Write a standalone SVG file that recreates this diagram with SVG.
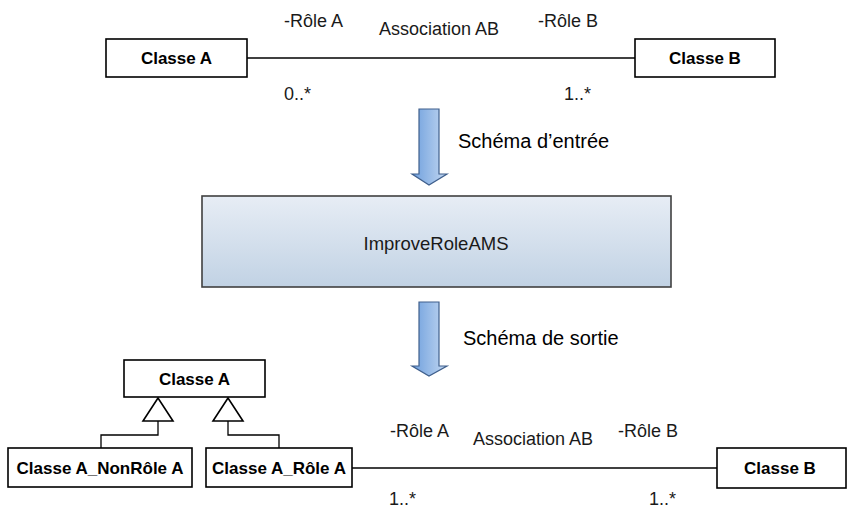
<svg xmlns="http://www.w3.org/2000/svg" width="847" height="514" viewBox="0 0 847 514">
  <style>
    .cls { fill: #ffffff; stroke: #000000; stroke-width: 1.6; }
    .clsname { font-family: "Liberation Sans", Arial, sans-serif; font-weight: bold; font-size: 17px; fill: #000000; text-anchor: middle; }
    .lbl { font-family: "Liberation Sans", Arial, sans-serif; font-size: 18px; fill: #1a1a1a; }
    .step { font-family: "Liberation Sans", Arial, sans-serif; font-size: 20px; fill: #000000; }
    .conn { stroke: #000000; stroke-width: 1.3; fill: none; }
    .gen { fill: #ffffff; stroke: #000000; stroke-width: 1.6; }
    .flow { fill: url(#flowFill); stroke: #3f5f8c; stroke-width: 1.2; }
  </style>
  <defs>
    <linearGradient id="flowFill" x1="0" y1="0" x2="1" y2="0">
      <stop offset="0" stop-color="#6e9fdd"/>
      <stop offset="1" stop-color="#c2d7f1"/>
    </linearGradient>
    <linearGradient id="procFill" x1="0" y1="0" x2="0" y2="1">
      <stop offset="0" stop-color="#e7edf5"/>
      <stop offset="1" stop-color="#c1d2e4"/>
    </linearGradient>
  </defs>

  <!-- connectors -->
  <g id="connectors">
    <line class="conn" x1="247" y1="58" x2="635" y2="58"/>
    <line class="conn" x1="352" y1="468" x2="717" y2="468"/>
    <polyline class="conn" points="158,421 158,435 101,435 101,448"/>
    <polyline class="conn" points="228,421 228,435 279,435 279,448"/>
    <polygon id="gen-left" class="gen" points="158,398 143,421 173,421"/>
    <polygon id="gen-right" class="gen" points="228,398 213,421 243,421"/>
  </g>

  <!-- input schema -->
  <g id="in-classA">
    <rect class="cls" x="106" y="39" width="141" height="38"/>
    <text class="clsname" x="176.5" y="64">Classe A</text>
  </g>
  <g id="in-classB">
    <rect class="cls" x="635" y="39" width="140" height="38"/>
    <text class="clsname" x="705" y="64">Classe B</text>
  </g>
  <g id="in-labels">
    <text class="lbl" x="284" y="27">-Rôle A</text>
    <text class="lbl" x="379" y="35">Association AB</text>
    <text class="lbl" x="538" y="27">-Rôle B</text>
    <text class="lbl" x="284" y="100">0..*</text>
    <text class="lbl" x="564" y="100">1..*</text>
  </g>

  <!-- transformation -->
  <g id="arrow-in">
    <polygon class="flow" points="419,109 439,109 439,174 447,174 429,185 412,174 419,174"/>
    <text class="step" x="458" y="148">Schéma d’entrée</text>
  </g>
  <g id="process">
    <rect x="202" y="196" width="469" height="91" fill="url(#procFill)" stroke="#404040" stroke-width="1.6"/>
    <text class="lbl" x="436" y="250" text-anchor="middle" style="font-size:18.5px">ImproveRoleAMS</text>
  </g>
  <g id="arrow-out">
    <polygon class="flow" points="419,302 439,302 439,366 447,366 429,376 412,366 419,366"/>
    <text class="step" x="463" y="345">Schéma de sortie</text>
  </g>

  <!-- output schema -->
  <g id="out-classA">
    <rect class="cls" x="124" y="360" width="141" height="37"/>
    <text class="clsname" x="194.5" y="385">Classe A</text>
  </g>
  <g id="out-classA-nonrole">
    <rect class="cls" x="8" y="448" width="184" height="39"/>
    <text class="clsname" x="100" y="474">Classe A_NonRôle A</text>
  </g>
  <g id="out-classA-role">
    <rect class="cls" x="206" y="448" width="146" height="39"/>
    <text class="clsname" x="279" y="474">Classe A_Rôle A</text>
  </g>
  <g id="out-classB">
    <rect class="cls" x="717" y="448" width="129" height="40"/>
    <text class="clsname" x="780" y="474">Classe B</text>
  </g>
  <g id="out-labels">
    <text class="lbl" x="390" y="437">-Rôle A</text>
    <text class="lbl" x="473" y="445">Association AB</text>
    <text class="lbl" x="618" y="437">-Rôle B</text>
    <text class="lbl" x="389" y="505">1..*</text>
    <text class="lbl" x="649" y="505">1..*</text>
  </g>
</svg>
